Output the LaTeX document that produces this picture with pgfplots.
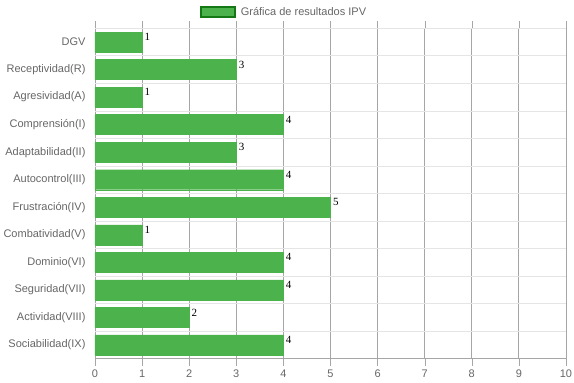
\documentclass[border=0pt]{standalone}
\usepackage{pgfplots}
\pgfplotsset{compat=1.18}
\usepackage{fontspec}
\setmainfont{Liberation Sans}
\setsansfont{Liberation Sans}
\newfontfamily\valfont{Liberation Serif}
\definecolor{barg}{RGB}{76,178,76}
\definecolor{bard}{RGB}{20,120,20}
\definecolor{txt}{RGB}{102,102,102}
\begin{document}
\begin{tikzpicture}
\useasboundingbox (-95pt,-24.3pt) rectangle (479pt,358.7pt);
\begin{axis}[
  scale only axis,
  width=471pt, height=330.4pt,
  xbar, bar width=20pt, bar shift=0pt,
  xmin=0, xmax=10, xtick={0,...,10},
  ymin=-0.5, ymax=11.5, y dir=reverse,
  ytick={0,...,11},
  yticklabels={DGV,Receptividad(R),Agresividad(A),Comprensión(I),Adaptabilidad(II),Autocontrol(III),Frustración(IV),Combatividad(V),Dominio(VI),Seguridad(VII),Actividad(VIII),Sociabilidad(IX)},
  minor ytick={-0.5,0.5,...,11.5},
  /pgf/number format/assume math mode=true,
  tick label style={font=\fontsize{11}{13}\selectfont, text=txt},
  xticklabel style={yshift=-1pt},
  yticklabel style={xshift=1pt},
  tick align=outside,
  major tick length=7pt,
  ytick style={draw=none},
  minor tick length=7pt,
  minor tick style={gray!20},
  xtick style={gray!70},
  xmajorgrids, major grid style={gray!70, line width=0.8pt},
  yminorgrids, minor grid style={gray!20, line width=0.8pt},
  axis line style={draw=none},
  nodes near coords,
  every node near coord/.append style={font=\valfont\fontsize{11}{12}\selectfont, text=black, anchor=west, xshift=-1pt, yshift=5pt},
  legend style={at={(0.401,1.048)}, anchor=center, draw=none, fill=none, font=\fontsize{11}{13}\selectfont, text=txt, inner sep=0pt},
  legend image code/.code={\draw[fill=barg, draw=bard, line width=2pt] (0pt,-5pt) rectangle (34pt,5pt); \path (38pt,0pt);},
]
\draw[gray!70, line width=0.8pt] (axis cs:0,11.5) -- (axis cs:10,11.5);
\addplot[fill=barg, draw=barg] coordinates {
(1,0) (3,1) (1,2) (4,3) (3,4) (4,5) (5,6) (1,7) (4,8) (4,9) (2,10) (4,11)};
\addlegendentry{Gráfica de resultados IPV}
\end{axis}
\end{tikzpicture}
\end{document}
